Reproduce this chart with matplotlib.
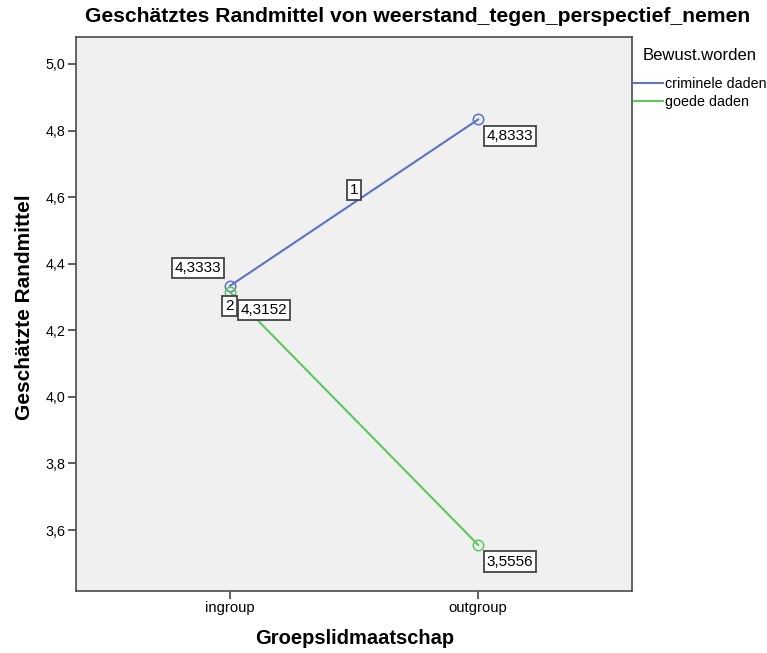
import matplotlib
matplotlib.use("Agg")
import matplotlib.pyplot as plt

plt.rcParams['font.family'] = ['Liberation Sans', 'DejaVu Sans']

categories = ["ingroup", "outgroup"]
series_names = ["criminele daden", "goede daden"]
criminele = [4.3333, 4.8333]
goede = [4.3152, 3.5556]
series_values = [criminele, goede]
colors = ["#5B72C8", "#5CC85C"]
yticks = [3.6, 3.8, 4.0, 4.2, 4.4, 4.6, 4.8, 5.0]

W, H = 767, 653
fig = plt.figure(figsize=(W / 100, H / 100), dpi=100)
L, R, T, B = 76, 632, 37, 591
ax = fig.add_axes([L / W, 1 - B / H, (R - L) / W, (B - T) / H])
ax.set_facecolor("#F0F0F0")

xs = list(range(len(categories)))
for name, vals, c in zip(series_names, series_values, colors):
    ax.plot(xs, vals, color=c, lw=1.5, marker="o", ms=7.5, mfc="none",
            mec=c, mew=1.1, label=name)

bbox = dict(boxstyle="square,pad=0.2", fc="white", ec="#444444", lw=1.3)

def label(x, y, txt, dx, dy, z=5):
    ax.annotate(txt, (x, y), xytext=(dx, dy), textcoords="offset points",
                ha="center", va="center", fontsize=11, bbox=bbox, zorder=z,
                annotation_clip=False)

def fmt(v):
    return f"{v:.4f}".replace(".", ",")

# value labels
label(0, criminele[0], fmt(criminele[0]), -23, 13)
label(1, criminele[1], fmt(criminele[1]), 23, -12)
label(0, goede[0], "2", -0.5, -10, z=5)
label(0, goede[0], fmt(goede[0]), 24.5, -13, z=6)
label(1, goede[1], fmt(goede[1]), 23, -12)
label(0.5, (criminele[0] + criminele[1]) / 2, "1", 0, 9)

ax.set_xlim(-0.62, 1.62)
ax.set_ylim(3.417, 5.081)
ax.set_xticks(xs)
ax.set_xticklabels(categories, fontsize=10.7)
ax.set_yticks(yticks)
ax.set_yticklabels([f"{v:.1f}".replace(".", ",") for v in yticks], fontsize=10.3)
ax.tick_params(direction="out", length=5.5, width=1.1, color="#333333", pad=2)
for s in ax.spines.values():
    s.set_color("#4A4A4A")
    s.set_linewidth(1.2)

fig.text(418 / W, 1 - 17 / H,
         "Geschätztes Randmittel von weerstand_tegen_perspectief_nemen",
         ha="center", va="center", fontsize=15.2, fontweight="bold")
fig.text(25 / W, 1 - 307 / H, "Geschätzte Randmittel", rotation=90,
         ha="center", va="center", fontsize=15, fontweight="bold")
fig.text(355 / W, 1 - 638 / H, "Groepslidmaatschap",
         ha="center", va="center", fontsize=14.5, fontweight="bold")

fig.text(643 / W, 1 - 56 / H, "Bewust.worden", ha="left", va="center",
         fontsize=12)
leg = fig.legend(loc="upper left", bbox_to_anchor=(634 / W, 1 - 77 / H),
                 frameon=False, fontsize=10.3,
                 handlelength=2.0, handletextpad=0.15,
                 labelspacing=0.3, borderpad=0, borderaxespad=0)
for h in leg.legend_handles:
    h.set_marker("")

fig.savefig("out.png", dpi=100)
